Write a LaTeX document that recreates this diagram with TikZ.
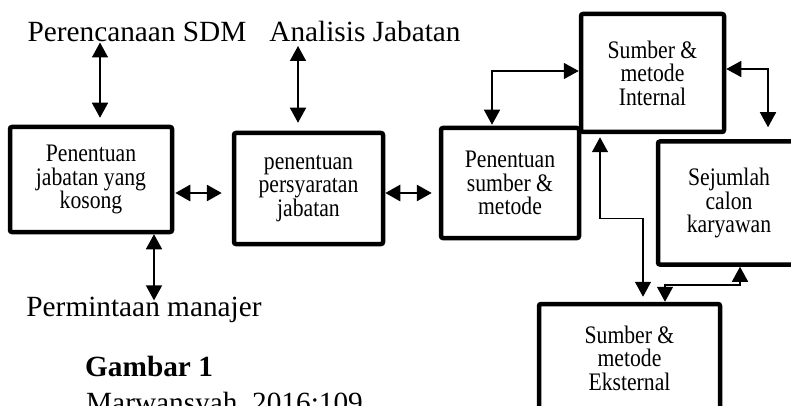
\documentclass[tikz,border=0pt]{standalone}
\usepackage{fontspec}
\setmainfont{Liberation Serif}
\newfontfamily\boxfont[FakeStretch=0.86]{Liberation Serif}
\usetikzlibrary{arrows.meta}

\begin{document}
\begin{tikzpicture}[
    x=1pt, y=1pt,
    box/.style={rectangle, draw, line width=4.5pt, rounded corners=2pt,
        align=center, inner sep=0pt, font=\boxfont\fontsize{25.2}{23.5}\selectfont},
    term/.style={inner sep=0pt, font=\fontsize{29.3}{33}\selectfont},
    arrowstyle/.style={draw, line width=1.5pt,
        {Triangle[length=15pt, width=16pt]}-{Triangle[length=15pt, width=16pt]}},
    thickarrow/.style={arrowstyle, line width=2.7pt}
]
\useasboundingbox (0,0) rectangle (791,-406);
\clip (0,0) rectangle (791,-406);

\node (Kosong) [box, minimum width=162pt, minimum height=105pt] at (91,-179.5)
  {Penentuan\\jabatan yang\\kosong};
\node (Syarat) [box, minimum width=149pt, minimum height=111pt] at (308.5,-188.5)
  {penentuan\\persyaratan\\jabatan};
\node (Sumber) [box, minimum width=138pt, minimum height=110pt] at (510,-183)
  {Penentuan\\sumber \&\\metode};
\node (Internal) [box, minimum width=143pt, minimum height=118pt] at (652.5,-73)
  {Sumber \&\\metode\\Internal};
\node (Calon) [box, minimum width=142pt, minimum height=123pt] at (729,-203)
  {Sejumlah\\calon\\karyawan};
\node (Eksternal) [box, minimum width=181pt, minimum height=108pt] at (629.5,-358)
  {Sumber \&\\metode\\Eksternal};

\node (PerencanaanSDM) [term, anchor=base] at (137,-42) {Perencanaan SDM};
\node (AnalisisJabatan) [term, anchor=base] at (365,-42) {Analisis Jabatan};
\node (Permintaan) [term, anchor=base] at (144,-316) {Permintaan manajer};
\node (Gambar) [term, anchor=base west] at (85,-376) {\bfseries Gambar 1};
\node (Marwansyah) [term, anchor=base west] at (86,-412) {Marwansyah, 2016:109};

\draw[arrowstyle, shorten <=7pt] ([xshift=9pt]Kosong.north)
  -- ([xshift=9pt]Kosong.north |- PerencanaanSDM.south);
\draw[arrowstyle, shorten <=8pt, shorten >=3.5pt] ([xshift=-10.5pt]Syarat.north)
  -- ([xshift=-10.5pt]Syarat.north |- AnalisisJabatan.south);
\draw[arrowstyle, shorten >=-4pt] ([xshift=63pt]Kosong.south)
  -- ([xshift=63pt]Kosong.south |- Permintaan.north);

\draw[thickarrow, shorten <=1pt, shorten >=10pt] ([yshift=-13.5pt]Kosong.east)
  -- ([yshift=-13.5pt]Kosong.east -| Syarat.west);
\draw[thickarrow, shorten >=7pt] ([yshift=-4.5pt]Syarat.east)
  -- ([yshift=-4.5pt]Syarat.east -| Sumber.west);

\draw[arrowstyle, shorten <=1pt] ([xshift=-18pt]Sumber.north) |- ([yshift=2pt]Internal.west);
\draw[arrowstyle, shorten >=12pt] ([yshift=4pt]Internal.east) -| ([xshift=39pt]Calon.north);
\draw[arrowstyle, shorten <=3pt, shorten >=5pt] ([xshift=-52.5pt]Internal.south)
  -- ++(0,-84) -| ([xshift=13.5pt]Eksternal.north);
\draw[arrowstyle] ([xshift=11pt]Calon.south) -- ++(0,-18) -| ([xshift=35.5pt]Eksternal.north);

\end{tikzpicture}
\end{document}
